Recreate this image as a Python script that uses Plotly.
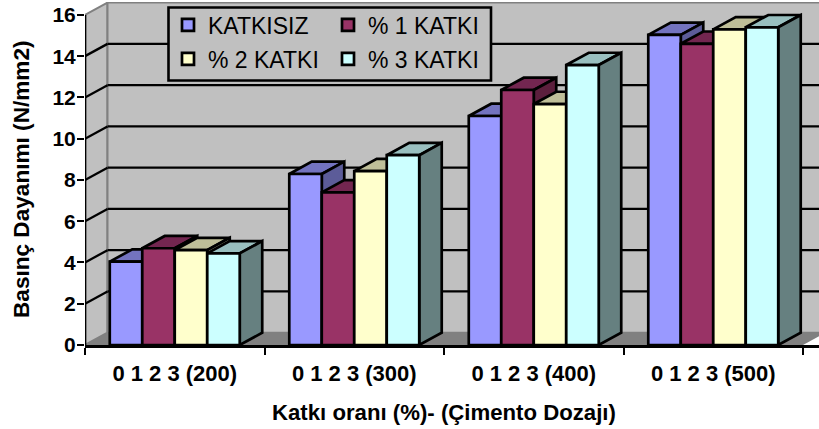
import plotly.graph_objects as go

categories = ["0 1 2 3 (200)", "0 1 2 3 (300)", "0 1 2 3 (400)", "0 1 2 3 (500)"]
series_names = ["KATKISIZ", "% 1 KATKI", "% 2 KATKI", "% 3 KATKI"]
katkisiz = [4.04, 8.29, 11.1, 15.03]
katki_1 = [4.69, 7.4, 12.36, 14.6]
katki_2 = [4.6, 8.43, 11.68, 15.3]
katki_3 = [4.44, 9.2, 13.57, 15.4]
y_ticks = [0, 2, 4, 6, 8, 10, 12, 14, 16]
x_title = "Katkı oranı (%)- (Çimento Dozajı)"
y_title = "Basınç Dayanımı (N/mm2)"

series_values = [katkisiz, katki_1, katki_2, katki_3]
front_colors = ["#9999FF", "#993366", "#FFFFCC", "#CCFFFF"]
top_colors = ["#7373BF", "#732650", "#BFBF99", "#99BFBF"]
side_colors = ["#5C5C99", "#5C1F3D", "#99997A", "#668080"]

W, H = 819, 429
L, T, B = 85, 2, 84
PX_X = 179.5
PX_Y = 20.63
DX = 22.5 / PX_X
DY = 12.3 / PX_Y
BARGAP = 0.276
LW = 2.7
FONT = "Liberation Sans, Arial, sans-serif"

plot_w = W - L
plot_h = H - T - B
x_max = plot_w / PX_X
y_max = plot_h / PX_Y
n_cat = len(categories)
n_ser = len(series_names)
bar_w = (1 - BARGAP) / n_ser
centers = [i + 0.5 for i in range(n_cat)]


def poly(points, fill=None, line=None, width=LW):
    path = "M " + " L ".join(f"{x},{y}" for x, y in points) + " Z"
    d = dict(type="path", path=path, xref="x", yref="y", layer="below")
    d["fillcolor"] = fill if fill else "rgba(0,0,0,0)"
    d["line"] = dict(color=line if line else "rgba(0,0,0,0)", width=width if line else 0)
    return d


def seg(x0, y0, x1, y1, color="#000000", width=2.3):
    return dict(type="line", x0=x0, y0=y0, x1=x1, y1=y1, xref="x", yref="y",
                layer="below", line=dict(color=color, width=width))


shapes = []
top_y = y_ticks[-1]
# walls and floor
shapes.append(poly([(0, 0), (DX, DY), (DX, top_y + DY), (0, top_y)], "#C0C0C0", "#808080", 2))
shapes.append(poly([(DX, DY), (n_cat + DX, DY), (n_cat + DX, top_y + DY), (DX, top_y + DY)], "#C0C0C0", "#808080", 2))
shapes.append(poly([(0, 0), (DX, DY), (n_cat + DX, DY), (n_cat, 0)], "#808080"))
# gridlines
for v in y_ticks[1:-1]:
    shapes.append(seg(0, v, DX, v + DY))
    shapes.append(seg(DX, v + DY, n_cat + DX, v + DY))
# bar top and side faces
for s in range(n_ser):
    for c in range(n_cat):
        v = series_values[s][c]
        x0 = centers[c] + (s - n_ser / 2) * bar_w
        x1 = x0 + bar_w
        shapes.append(poly([(x0, v), (x0 + DX, v + DY), (x1 + DX, v + DY), (x1, v)], top_colors[s], "#000000"))
        shapes.append(poly([(x1, 0), (x1 + DX, DY), (x1 + DX, v + DY), (x1, v)], side_colors[s], "#000000"))


# pixels converted to paper fractions
def px(x):
    return (x - L) / plot_w


def py(y):
    return (H - B - y) / plot_h


shapes.append(dict(type="rect", xref="paper", yref="paper", layer="above",
                   x0=px(168.5), x1=px(491), y0=py(80.5), y1=py(7.5),
                   fillcolor="#C0C0C0", line=dict(color="#000000", width=2.6)))

fig = go.Figure()
legend_ids = ["legend", "legend2", "legend3", "legend4"]
for s in range(n_ser):
    fig.add_trace(go.Bar(
        x=centers, y=series_values[s], name=series_names[s], legend=legend_ids[s],
        marker=dict(color=front_colors[s], line=dict(color="#000000", width=LW)),
    ))

# value axis line, from the tick range
fig.add_trace(go.Scatter(x=[0, 0], y=[y_ticks[0], y_ticks[-1]], mode="lines",
                         line=dict(color="#000000", width=2.7), cliponaxis=False,
                         showlegend=False, hoverinfo="skip"))

legend_pos = [(168, 25), (328, 25), (168, 59), (328, 59)]
legends = {}
for lid, (lx, ly) in zip(legend_ids, legend_pos):
    legends[lid] = dict(x=px(lx), y=py(ly), xanchor="left", yanchor="middle",
                        bgcolor="rgba(0,0,0,0)", borderwidth=0,
                        font=dict(family=FONT, size=23, color="#000000"))

annotations = [
    dict(text=f"<b>{x_title}</b>", xref="paper", yref="paper", x=px(444), y=py(412),
         xanchor="center", yanchor="middle", showarrow=False,
         font=dict(family=FONT, size=22.2, color="#000000")),
    dict(text=f"<b>{y_title}</b>", xref="paper", yref="paper", x=px(21), y=py(179),
         xanchor="center", yanchor="middle", showarrow=False, textangle=-90,
         font=dict(family=FONT, size=22.6, color="#000000")),
]

fig.update_layout(
    width=W, height=H, margin=dict(l=L, r=0, t=T, b=B, autoexpand=False),
    paper_bgcolor="#FFFFFF", plot_bgcolor="#FFFFFF",
    barmode="group", bargap=BARGAP, bargroupgap=0, showlegend=True,
    shapes=shapes, annotations=annotations, font=dict(family=FONT, color="#000000"),
    xaxis=dict(
        range=[0, x_max], showgrid=False, zeroline=False, showline=True, linecolor="#000000", linewidth=3,
        tickmode="array", tickvals=centers, ticktext=categories,
        ticks="outside", ticklen=7, tickcolor="rgba(0,0,0,0)",
        tickfont=dict(family=FONT, size=22, color="#000000", weight="bold"),
        minor=dict(tickmode="array", tickvals=list(range(n_cat + 1)), ticks="outside", ticklen=7,
                   tickwidth=2, tickcolor="#000000", showgrid=False),
    ),
    yaxis=dict(
        range=[0, y_max], showgrid=False, zeroline=False, showline=False,
        tickmode="array", tickvals=y_ticks, ticks="outside", ticklen=7, tickwidth=2, tickcolor="#000000",
        ticklabelstandoff=-3,
        tickfont=dict(family=FONT, size=21, color="#000000", weight="bold"),
    ),
    **legends,
)

fig.write_html("out.html", post_script="document.body.style.margin='0';",
               config={"displayModeBar": False})
